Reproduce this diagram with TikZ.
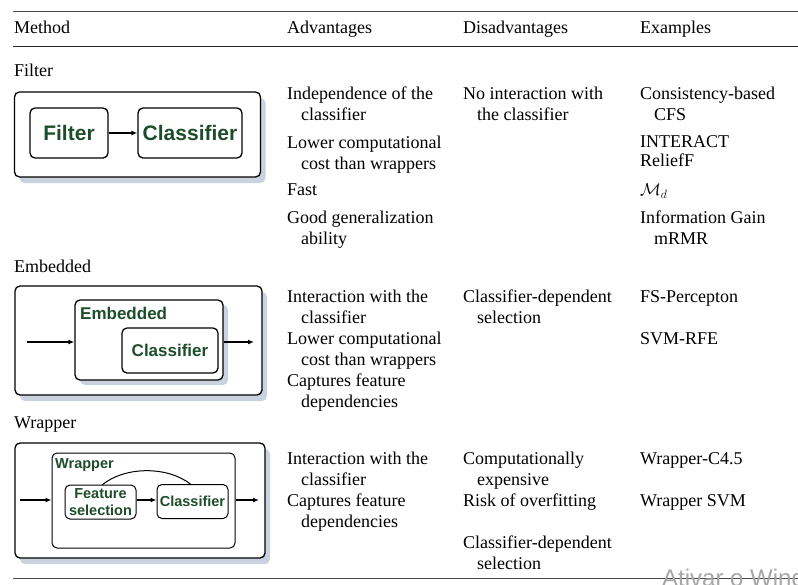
\documentclass[tikz,border=0pt]{standalone}
\usepackage{fontspec}
\setmainfont{Liberation Serif}
\newfontfamily\boxfont{Liberation Sans}
\newfontfamily\wmfont{Liberation Sans}
\usetikzlibrary{arrows.meta,shadows}
\definecolor{boxgreen}{HTML}{1E4D2B}
\definecolor{shadowblue}{HTML}{C9D2DE}
\tikzset{
  cell/.style={anchor=mid west, inner sep=0pt, yshift=-3.5pt, font=\fontsize{18}{21}\selectfont, text=black},
  outerbox/.style={draw=black, line width=1.3pt, rounded corners=5pt, fill=white,
    drop shadow={shadow xshift=5pt, shadow yshift=-6pt, fill=shadowblue, opacity=1}},
  innerbox/.style={draw=black, line width=1.3pt, rounded corners=5pt, fill=white},
  greenlbl/.style={text=boxgreen, font=\boxfont\bfseries\fontsize{21}{21}\selectfont, inner sep=0pt},
  smallgreen/.style={text=boxgreen, font=\boxfont\bfseries\fontsize{14.5}{17}\selectfont, inner sep=0pt, align=center},
  flow/.style={line width=1.2pt, -{Latex[length=6pt,width=5pt]}},
}
\begin{document}
\begin{tikzpicture}[x=1pt,y=-1pt]
\useasboundingbox[fill=white] (0,0) rectangle (798,584);

% rules of the table
\draw[line width=1pt, black!70] (13,11) -- (798,11);
\draw[line width=1.6pt, black!85] (13,46.5) -- (798,46.5);
\draw[line width=1pt, black!70] (13,578) -- (798,578);

% header
\node[cell] (hm) at (14,28) {Method};
\node[cell] (ha) at (287,28) {Advantages};
\node[cell] (hd) at (463,28) {Disadvantages};
\node[cell] (he) at (640,28) {Examples};

% ---------------- Filter ----------------
\node[cell] (lf) at (14,71) {Filter};
\node[outerbox, minimum width=246pt, minimum height=85pt] (fo) at (137.5,134.5) {};
\node[innerbox, minimum width=78pt, minimum height=50pt] (ff) at (69,133) {};
\node[innerbox, minimum width=104pt, minimum height=50pt] (fc) at (190,133) {};
\node[greenlbl] at (ff.center) {Filter};
\node[greenlbl] at (fc.center) {Classifier};
\draw[flow] (ff.east) -- (fc.west);

\node[cell] at (287,94) {Independence of the};
\node[cell] at (301,115) {classifier};
\node[cell] at (287,143) {Lower computational};
\node[cell] at (301,164) {cost than wrappers};
\node[cell] at (287,190) {Fast};
\node[cell] at (287,218) {Good generalization};
\node[cell] at (301,239) {ability};

\node[cell] at (463,94) {No interaction with};
\node[cell] at (477,115) {the classifier};

\node[cell] at (640,94) {Consistency-based};
\node[cell] at (654,115) {CFS};
\node[cell] at (640,142) {INTERACT};
\node[cell] at (640,161) {ReliefF};
\node[cell] at (640,190) {$\mathcal{M}_d$};
\node[cell] at (640,218) {Information Gain};
\node[cell] at (654,239) {mRMR};

% ---------------- Embedded ----------------
\node[cell] (le) at (14,267) {Embedded};
\node[outerbox, minimum width=247pt, minimum height=109pt] (eo) at (138.5,340.5) {};
\node[innerbox, drop shadow={shadow xshift=5pt, shadow yshift=-5pt, fill=shadowblue, opacity=1}, minimum width=148pt, minimum height=80pt] (ee) at (149,340) {};
\node[innerbox, minimum width=96pt, minimum height=45pt] (ec) at (170,350.5) {};
\node[greenlbl, anchor=west, font=\boxfont\bfseries\fontsize{17}{17}\selectfont] at (80,313) {Embedded};
\node[greenlbl, font=\boxfont\bfseries\fontsize{17}{17}\selectfont] at (ec.center) {Classifier};
\coordinate (ein) at (27,342);
\coordinate (eout) at (254,342);
\draw[flow] (ein) -- (ee.west |- ein);
\draw[flow] (ee.east |- eout) -- (eout);

\node[cell] at (287,297) {Interaction with the};
\node[cell] at (301,318) {classifier};
\node[cell] at (287,339) {Lower computational};
\node[cell] at (301,360) {cost than wrappers};
\node[cell] at (287,381) {Captures feature};
\node[cell] at (301,402) {dependencies};

\node[cell] at (463,297) {Classifier-dependent};
\node[cell] at (477,318) {selection};

\node[cell] at (640,297) {FS-Percepton};
\node[cell] at (640,339) {SVM-RFE};

% ---------------- Wrapper ----------------
\node[cell] (lw) at (14,423) {Wrapper};
\node[outerbox, minimum width=250pt, minimum height=115pt] (wo) at (140,500.5) {};
\node[innerbox, line width=1pt, minimum width=183pt, minimum height=95pt] (ww) at (143.5,500.5) {};
\node[greenlbl, anchor=west, font=\boxfont\bfseries\fontsize{14.5}{14.5}\selectfont] at (55,465) {Wrapper};
\node[innerbox, line width=1pt, minimum width=71pt, minimum height=34pt] (wf) at (100.5,502) {};
\node[innerbox, line width=1pt, minimum width=71pt, minimum height=34pt] (wc) at (192.5,501.5) {};
\node[smallgreen] at (wf.center) {Feature\\selection};
\node[smallgreen] at (wc.center) {Classifier};
\draw[line width=1pt] (102,485) .. controls (125,466) and (168,466) .. (191,484.5);
\coordinate (win) at (20,500);
\coordinate (wout) at (259,500);
\draw[flow] (win) -- (ww.west |- win);
\draw[flow] (wf.east |- win) -- (wc.west |- win);
\draw[flow] (ww.east |- wout) -- (wout);

\node[cell] at (287,459) {Interaction with the};
\node[cell] at (301,480) {classifier};
\node[cell] at (287,501) {Captures feature};
\node[cell] at (301,522) {dependencies};

\node[cell] at (463,459) {Computationally};
\node[cell] at (477,480) {expensive};
\node[cell] at (463,501) {Risk of overfitting};
\node[cell] at (463,543) {Classifier-dependent};
\node[cell] at (477,564) {selection};

\node[cell] at (640,459) {Wrapper-C4.5};
\node[cell] at (640,501) {Wrapper SVM};

% overlay text at the lower right corner
\begin{scope}
\clip (0,0) rectangle (798,584);
\node[anchor=base west, inner sep=0pt, text=black!35, font=\wmfont\fontsize{24}{24}\selectfont] (wm) at (662,586) {Ativar o Windows};
\end{scope}
\end{tikzpicture}
\end{document}
